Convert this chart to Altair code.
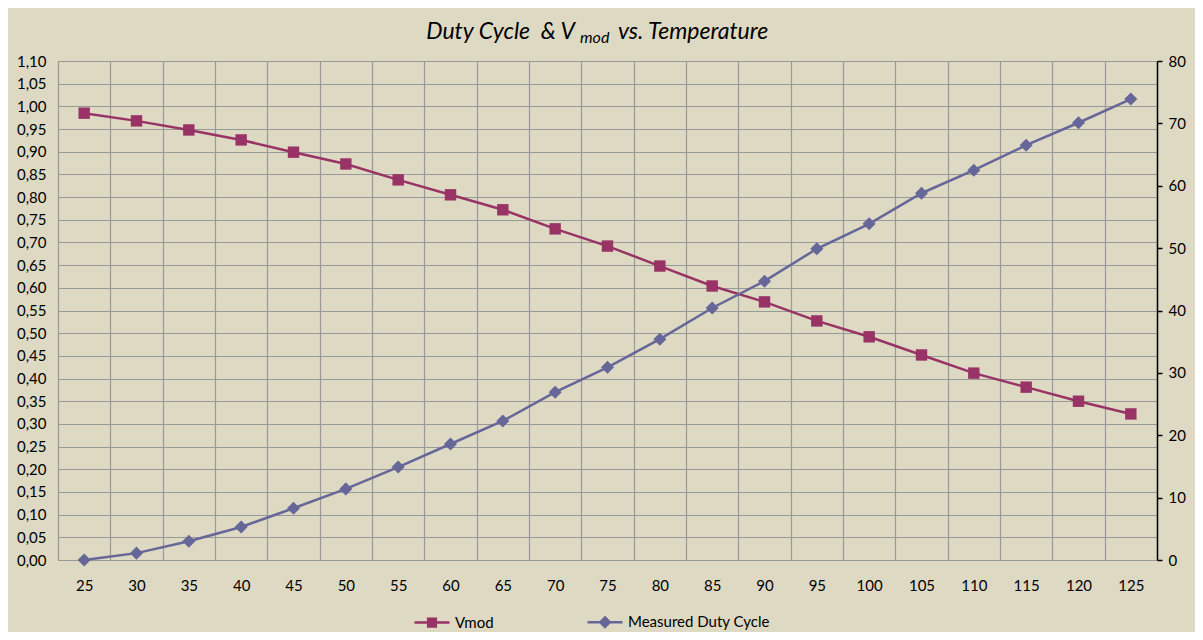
import altair as alt
import pandas as pd

# ---- data ----
temps = [25, 30, 35, 40, 45, 50, 55, 60, 65, 70, 75, 80, 85, 90, 95, 100, 105, 110, 115, 120, 125]
vmod = [0.985, 0.968, 0.948, 0.926, 0.899, 0.873, 0.838, 0.805, 0.772, 0.730, 0.692,
        0.648, 0.604, 0.569, 0.527, 0.492, 0.452, 0.412, 0.381, 0.350, 0.322]
duty = [0.0, 1.1, 3.0, 5.3, 8.3, 11.4, 14.9, 18.6, 22.3, 26.9, 30.9,
        35.4, 40.4, 44.7, 49.9, 53.9, 58.8, 62.5, 66.5, 70.1, 73.9]
series_names = ["Vmod", "Measured Duty Cycle"]
left_ticks = [round(i * 0.05, 2) for i in range(23)]
right_ticks = [0, 10, 20, 30, 40, 50, 60, 70, 80]

# ---- styling ----
C_VMOD = "#993366"
C_DUTY = "#666699"
GRID = "#999999"
FONT = "Lato"
W, H = 1099, 499

df = pd.DataFrame({"temp": temps, "vmod": vmod, "duty": duty})
one = pd.DataFrame({"k": [0]})
leg_df = pd.DataFrame({"series": series_names})

x_scale = alt.Scale(type="band", domain=temps, paddingInner=0, paddingOuter=0)
x_axis = alt.Axis(
    tickBand="extent", labelAngle=0, labelOverlap=False,
    grid=True, gridColor=GRID, gridWidth=1.2, domain=False, ticks=False, tickSize=0,
    labelPadding=18, labelFont=FONT, labelFontSize=15, labelColor="#000", title=None,
)
x_enc = alt.X("temp:O", scale=x_scale, axis=x_axis)

y_left = alt.Y(
    "vmod:Q",
    scale=alt.Scale(domain=[0, 1.1], nice=False, zero=True),
    axis=alt.Axis(
        orient="left", values=left_ticks,
        labelExpr="replace(format(datum.value, '.2f'), '.', ',')",
        grid=True, gridColor=GRID, gridWidth=1.2, domain=True, domainColor=GRID,
        ticks=False, tickSize=0, labelPadding=12, labelFlush=False, labelOverlap=False,
        labelFont=FONT, labelFontSize=15, labelColor="#000", title=None,
    ),
)
y_right = alt.Y(
    "duty:Q",
    scale=alt.Scale(domain=[0, 80], nice=False, zero=True),
    axis=alt.Axis(
        orient="right", values=right_ticks, grid=False,
        domain=True, domainColor="#000", domainWidth=1.5,
        ticks=True, tickColor="#000", tickSize=5, tickWidth=1.5,
        labelPadding=6, labelFlush=False, labelOverlap=False,
        labelFont=FONT, labelFontSize=15, labelColor="#000", title=None,
    ),
)

vmod_base = alt.Chart(df).encode(x=x_enc, y=y_left)
vmod_layer = alt.layer(
    vmod_base.mark_line(color=C_VMOD, strokeWidth=2.5),
    vmod_base.mark_point(shape="square", filled=True, size=130, color=C_VMOD, opacity=1),
)
duty_base = alt.Chart(df).encode(x=x_enc, y=y_right)
duty_layer = alt.layer(
    duty_base.mark_line(color=C_DUTY, strokeWidth=2.5),
    duty_base.mark_point(shape="diamond", filled=True, size=170, color=C_DUTY, opacity=1),
)

# legend (library legend, from an empty layer with explicit domains)
sq_path = "M-1,0H1M-0.22,-0.22H0.22V0.22H-0.22Z"
dm_path = "M-1,0H1M0,-0.27L0.27,0L0,0.27L-0.27,0Z"
leg = alt.Legend(
    title=None, orient="none", legendX=355, legendY=542, direction="horizontal",
    symbolSize=1225, symbolStrokeWidth=2.5, labelOffset=4, columnPadding=88,
    labelFont=FONT, labelFontSize=15, labelColor="#000",
)
legend_layer = alt.Chart(leg_df).mark_point(filled=True, opacity=1).encode(
    fill=alt.Fill("series:N", scale=alt.Scale(domain=series_names, range=[C_VMOD, C_DUTY]), legend=leg),
    stroke=alt.Stroke("series:N", scale=alt.Scale(domain=series_names, range=[C_VMOD, C_DUTY]), legend=leg),
    shape=alt.Shape("series:N", scale=alt.Scale(domain=series_names, range=[sq_path, dm_path]), legend=leg),
).transform_filter("false")

# title with subscript
title_style = dict(font=FONT, fontStyle="italic", color="#000", baseline="alphabetic")
t1 = alt.Chart(one).mark_text(text="Duty Cycle \u00a0& V", fontSize=23, align="right", **title_style).encode(
    x=alt.value(517), y=alt.value(-22))
t2 = alt.Chart(one).mark_text(text="mod", fontSize=16, align="left", **title_style).encode(
    x=alt.value(522), y=alt.value(-18))
t3 = alt.Chart(one).mark_text(text="vs. Temperature", fontSize=23, align="left", **title_style).encode(
    x=alt.value(560), y=alt.value(-22))

chart = alt.layer(vmod_layer, duty_layer, legend_layer, t1, t2, t3).resolve_scale(
    y="independent"
).properties(
    width=W, height=H,
    autosize=alt.AutoSizeParams(type="none"),
    padding={"left": 50, "top": 53, "right": 38, "bottom": 72},
    background="#ddd9c3",
).configure_view(
    fill="#eeece1", stroke=GRID, strokeWidth=1,
)

chart.save("out.html", embed_options={"renderer": "svg", "actions": False})
